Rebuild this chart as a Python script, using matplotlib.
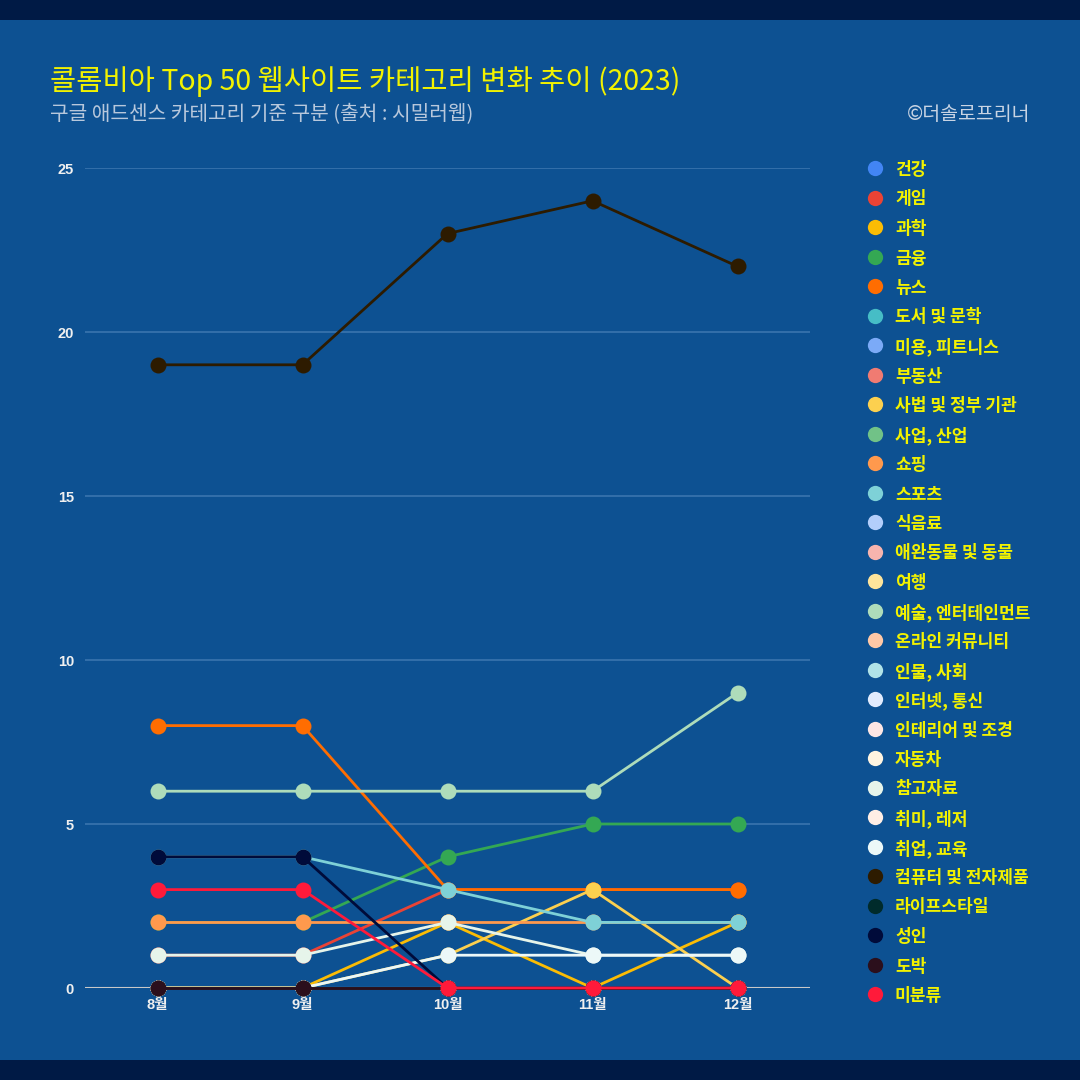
import matplotlib
matplotlib.use("Agg")
import matplotlib.pyplot as plt
from matplotlib.lines import Line2D

plt.rcParams['font.family'] = ['Noto Sans CJK KR', 'DejaVu Sans']

months = ['8월', '9월', '10월', '11월', '12월']

categories = ['건강', '게임', '과학', '금융', '뉴스', '도서 및 문학', '미용, 피트니스', '부동산',
              '사법 및 정부 기관', '사업, 산업', '쇼핑', '스포츠', '식음료', '애완동물 및 동물', '여행',
              '예술, 엔터테인먼트', '온라인 커뮤니티', '인물, 사회', '인터넷, 통신', '인테리어 및 조경',
              '자동차', '참고자료', '취미, 레저', '취업, 교육', '컴퓨터 및 전자제품', '라이프스타일',
              '성인', '도박', '미분류']

colors = ['#4285f4', '#ea4335', '#fbbc04', '#34a853', '#ff6d01', '#46bdc6', '#7baaf7', '#f07b72',
          '#fcd04f', '#71c287', '#ff994d', '#7ed1d7', '#b3cefb', '#f7b4ae', '#fde49b',
          '#aedcba', '#ffc8a6', '#b1e3e7', '#e1ebfd', '#fde6e4',
          '#fff4e0', '#e6f4ea', '#ffeee5', '#ecf8f8', '#2d1b00', '#002b2b',
          '#000b3a', '#2b0f1c', '#ff1a3a']

v_건강 = [0, 0, 0, 0, 0]
v_게임 = [1, 1, 3, 3, 3]
v_과학 = [0, 0, 2, 0, 2]
v_금융 = [2, 2, 4, 5, 5]
v_뉴스 = [8, 8, 3, 3, 3]
v_도서 = [0, 0, 0, 0, 0]
v_미용 = [0, 0, 0, 0, 0]
v_부동산 = [0, 0, 0, 0, 0]
v_사법 = [0, 0, 1, 3, 0]
v_사업 = [0, 0, 0, 0, 0]
v_쇼핑 = [2, 2, 2, 2, 2]
v_스포츠 = [4, 4, 3, 2, 2]
v_식음료 = [0, 0, 0, 0, 0]
v_애완 = [0, 0, 0, 0, 0]
v_여행 = [0, 0, 0, 0, 0]
v_예술 = [6, 6, 6, 6, 9]
v_온라인 = [0, 0, 0, 0, 0]
v_인물 = [0, 0, 0, 0, 0]
v_인터넷 = [0, 0, 0, 0, 0]
v_인테리어 = [0, 0, 0, 0, 0]
v_자동차 = [0, 0, 0, 0, 0]
v_참고 = [1, 1, 2, 1, 1]
v_취미 = [0, 0, 0, 0, 0]
v_취업 = [0, 0, 1, 1, 1]
v_컴퓨터 = [19, 19, 23, 24, 22]
v_라이프 = [0, 0, 0, 0, 0]
v_성인 = [4, 4, 0, 0, 0]
v_도박 = [0, 0, 0, 0, 0]
v_미분류 = [3, 3, 0, 0, 0]

values = [v_건강, v_게임, v_과학, v_금융, v_뉴스, v_도서, v_미용, v_부동산, v_사법, v_사업,
          v_쇼핑, v_스포츠, v_식음료, v_애완, v_여행, v_예술, v_온라인, v_인물, v_인터넷, v_인테리어,
          v_자동차, v_참고, v_취미, v_취업, v_컴퓨터, v_라이프, v_성인, v_도박, v_미분류]

BG = '#0d5192'
BAND = '#001a45'
W = 1080.0

fig = plt.figure(figsize=(10.8, 10.8), dpi=100)
fig.patch.set_facecolor(BG)
fig.add_artist(plt.Rectangle((0, 1 - 20 / W), 1, 20 / W, transform=fig.transFigure,
                             facecolor=BAND, edgecolor='none', zorder=0))
fig.add_artist(plt.Rectangle((0, 0), 1, 20 / W, transform=fig.transFigure,
                             facecolor=BAND, edgecolor='none', zorder=0))

ax = fig.add_axes([85 / W, 1 - 988 / W, (810 - 85) / W, (988 - 168) / W])
ax.set_facecolor(BG)
x = list(range(len(months)))
for i, (name, col, vals) in enumerate(zip(categories, colors, values)):
    ax.plot(x, vals, color=col, lw=2.0, marker='o', markersize=11.5, markeredgewidth=0,
            zorder=3 + i * 0.01, clip_on=False, label=name)

ax.set_xlim(-0.5, 4.5)
ax.set_ylim(0, 25)
ax.set_yticks([0, 5, 10, 15, 20, 25])
ax.set_xticks(x)
ax.set_xticklabels(months)
for s in ax.spines.values():
    s.set_visible(False)
ax.grid(axis='y', color='#3a74ae', lw=1.2)
ax.grid(axis='x', visible=False)
ax.axhline(0, color='#c8c8c8', lw=1.5, zorder=2.5)
ax.tick_params(axis='both', length=0, colors='white', labelsize=10.5)
ax.tick_params(axis='y', pad=8)
ax.tick_params(axis='x', pad=7)
for lab in ax.get_xticklabels() + ax.get_yticklabels():
    lab.set_fontweight('bold')
    lab.set_color('#f0f0f0')
    lab.set_family(['Liberation Sans', 'Noto Sans CJK KR'])

# legend: evenly spaced rows
row0, step = 168.0, 29.5
for i, (name, col) in enumerate(zip(categories, colors)):
    yy = 1 - (row0 + i * step) / W
    fig.add_artist(Line2D([875 / W], [yy], transform=fig.transFigure, marker='o', color='none',
                          markerfacecolor=col, markeredgewidth=0, markersize=11))
    fig.text(895 / W, yy, name, color='#f2f200', fontsize=12.3, fontweight='bold',
             va='center_baseline', ha='left', family=['Noto Sans CJK KR', 'DejaVu Sans'])

fig.text(50 / W, 1 - 82 / W, '콜롬비아 Top 50 웹사이트 카테고리 변화 추이 (2023)',
         color='#f2f200', fontsize=20.5, va='center', ha='left')
fig.text(50 / W, 1 - 115 / W, '구글 애드센스 카테고리 기준 구분 (출처 : 시밀러웹)',
         color='#b8c8dc', fontsize=14.6, va='center', ha='left')
fig.text(1030 / W, 1 - 115 / W, '©더솔로프리너',
         color='#c8d4e4', fontsize=14, va='center', ha='right')

fig.savefig('out.png', dpi=100, facecolor=BG)
